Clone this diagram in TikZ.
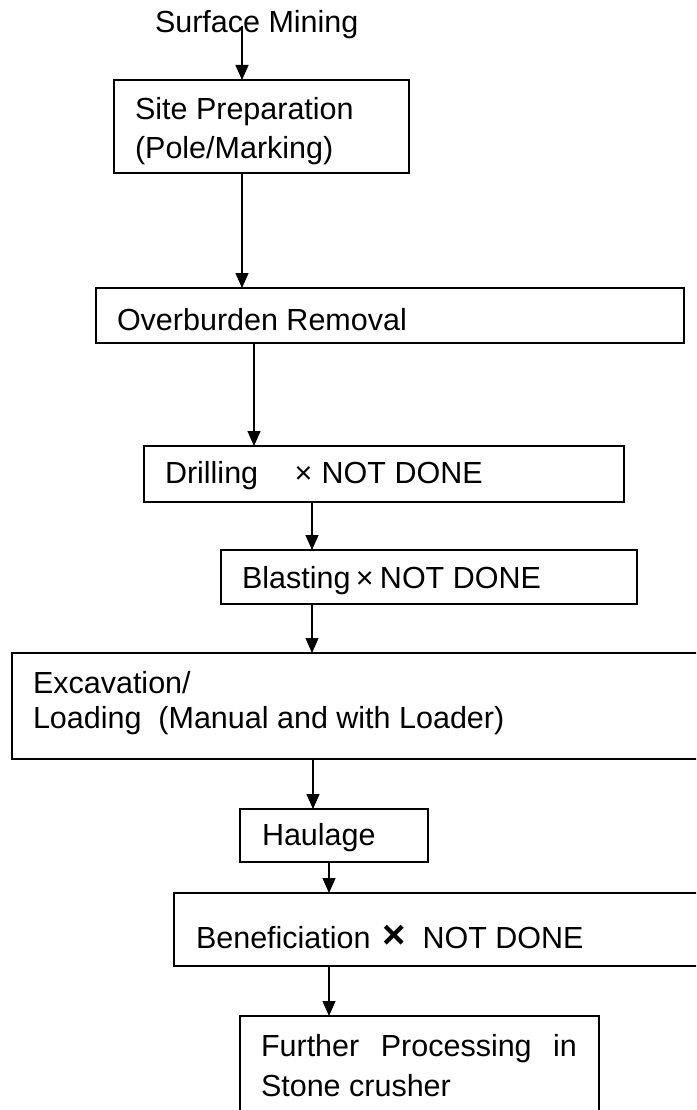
\documentclass[tikz,border=0pt]{standalone}
\usepackage{fontspec}
\setmainfont{Liberation Sans}
\usetikzlibrary{arrows.meta}
\begin{document}
\begin{tikzpicture}[x=1pt,y=-1pt,
  box/.style={draw=black, line width=1.6pt, anchor=north west, inner sep=0pt, outer sep=0pt},
  txt/.style={anchor=base west, inner sep=0pt, outer sep=0pt, font=\fontsize{30.5}{36}\selectfont},
  arr/.style={line width=1.3pt, -{Triangle[width=13pt,length=15pt]}}]
\useasboundingbox (0,0) rectangle (696,1110);
\clip (0,0) rectangle (696,1110);
% boxes
\node[box, minimum width=295pt, minimum height=93pt] (site) at (114,80) {};
\node[box, minimum width=588pt, minimum height=55pt] (over) at (96,288) {};
\node[box, minimum width=480pt, minimum height=56pt] (drill) at (144,446) {};
\node[box, minimum width=416pt, minimum height=54pt] (blast) at (221,550) {};
\node[box, minimum width=720pt, minimum height=106pt] (exc) at (12,653) {};
\node[box, minimum width=188pt, minimum height=53pt] (haul) at (240,809) {};
\node[box, minimum width=560pt, minimum height=73pt] (ben) at (174,893) {};
\node[box, minimum width=359pt, minimum height=120pt] (fp) at (240,1016) {};
% texts
\node[txt] (surf) at (155,33) {Surface Mining};
\node[txt] (siteA) at (135,120) {Site Preparation};
\node[txt] (siteB) at (135,159) {(Pole/Marking)};
\node[txt] (overT) at (117,330) {Overburden Removal};
\node[txt] (drillT) at (165,483) {Drilling\hspace{36.4pt}×\hspace{9.3pt}NOT DONE};
\begin{scope}
\clip (221,550) rectangle (637,594);
\node[txt] (blastT) at (242,588) {Blasting\hspace{5.4pt}×\hspace{6.3pt}NOT DONE};
\end{scope}
\node[txt] (excA) at (33,693) {Excavation/};
\node[txt] (excB) at (33,728) {Loading\ \ (Manual and with Loader)};
\begin{scope}
\clip (240,809) rectangle (428,851);
\node[txt] (haulT) at (262,845) {Haulage};
\end{scope}
\node[txt] (benT) at (196,948) {Beneficiation\hspace{12.3pt}{\fontsize{40}{40}\selectfont\bfseries ×}\hspace{16.3pt}NOT DONE};
\node[txt] (fpA) at (261,1056) {\hbox to 316pt{Further\hfill Processing\hfill in}};
\node[txt] (fpB) at (261,1096) {Stone crusher};
% arrow x positions
\coordinate (s0) at (242,26);
\coordinate (x2) at (242,0);
\coordinate (x3) at (254,0);
\coordinate (x4) at (312,0);
\coordinate (x6) at (313,0);
\coordinate (x7) at (329,0);
% arrows
\draw[arr] (s0) -- (site.north -| s0);
\draw[arr] (site.south -| x2) -- (over.north -| x2);
\draw[arr] (over.south -| x3) -- (drill.north -| x3);
\draw[arr] (drill.south -| x4) -- (blast.north -| x4);
\draw[arr] (blast.south -| x4) -- (exc.north -| x4);
\draw[arr] (exc.south -| x6) -- (haul.north -| x6);
\draw[arr] (haul.south -| x7) -- (ben.north -| x7);
\draw[arr] (ben.south -| x7) -- (fp.north -| x7);
\end{tikzpicture}
\end{document}
